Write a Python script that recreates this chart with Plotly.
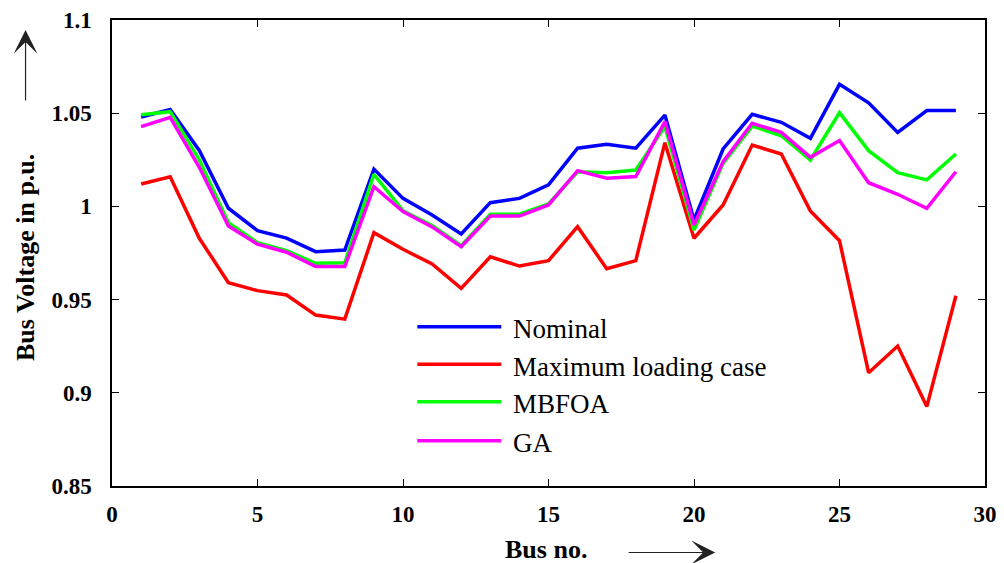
import plotly.graph_objects as go

bus = list(range(1, 30))

nominal = [1.048, 1.052, 1.030, 0.999, 0.987, 0.983, 0.9757, 0.9766, 1.020, 1.0043,
           0.9954, 0.9852, 1.002, 1.0043, 1.0115, 1.0312, 1.0333, 1.0312, 1.049, 0.9927,
           1.0308, 1.0494, 1.0451, 1.0365, 1.0655, 1.0556, 1.0397, 1.0514, 1.0514]

max_loading = [1.012, 1.0159, 0.9829, 0.9591, 0.9548, 0.9525, 0.9417, 0.9395, 0.9859, 0.977,
               0.9691, 0.956, 0.973, 0.968, 0.9709, 0.9891, 0.9666, 0.9709, 1.0342, 0.9829,
               1.0008, 1.0329, 1.0281, 0.9975, 0.9816, 0.9108, 0.9251, 0.8926, 0.9521]

mbfoa = [1.0492, 1.0508, 1.025, 0.9913, 0.9805, 0.9762, 0.9695, 0.9698, 1.0172, 0.9977,
         0.9897, 0.9789, 0.9958, 0.9958, 1.0013, 1.0186, 1.0181, 1.0195, 1.0428, 0.9873,
         1.0231, 1.0431, 1.0379, 1.0249, 1.0503, 1.0299, 1.0181, 1.0142, 1.0281]

ga = [1.0428, 1.0478, 1.021, 0.9895, 0.9797, 0.9754, 0.9677, 0.9677, 1.0106, 0.9972,
      0.989, 0.9784, 0.9948, 0.9948, 1.0008, 1.0192, 1.0151, 1.016, 1.0455, 0.990,
      1.024, 1.0446, 1.0397, 1.0263, 1.0353, 1.0127, 1.0065, 0.999, 1.0186]

series_names = ["Nominal", "Maximum loading case", "MBFOA", "GA"]
series_values = [nominal, max_loading, mbfoa, ga]
series_colors = ["#0000FF", "#FF0000", "#00FF00", "#FF00FF"]

x_ticks = [0, 5, 10, 15, 20, 25, 30]
y_ticks = [0.85, 0.9, 0.95, 1.0, 1.05, 1.1]

# plot area in pixels (for paper-coordinate placement of decorations)
L, R, T, B = 111.5, 985.0, 20.0, 486.0
W, H = 1004, 563


def px(xp):
    return (xp - L) / (R - L)


def py(yp):
    return (B - yp) / (B - T)


fig = go.Figure()
for name, vals, col in zip(series_names, series_values, series_colors):
    fig.add_trace(go.Scatter(x=bus, y=vals, mode="lines", name=name,
                             line=dict(color=col, width=3.5), showlegend=False))

font_family = "Times New Roman, Liberation Serif, Times, serif"

fig.update_xaxes(range=[0, 30], tickvals=x_ticks, ticks="inside", ticklen=7,
                 tickcolor="black", tickwidth=1, showline=True, linecolor="black",
                 linewidth=1.5, mirror="ticks", showgrid=False, zeroline=False,
                 tickfont=dict(family=font_family, size=23, color="black", weight="bold"),
                 ticklabelstandoff=7)
fig.update_yaxes(range=[0.85, 1.1], tickvals=y_ticks, ticks="inside", ticklen=7,
                 tickcolor="black", tickwidth=1, showline=True, linecolor="black",
                 linewidth=1.5, mirror="ticks", showgrid=False, zeroline=False,
                 tickfont=dict(family=font_family, size=23, color="black", weight="bold"),
                 ticklabelstandoff=14)

annotations = []
shapes = []

# manual legend
legend_rows_y = [326.7, 364.3, 401.7, 440.7]
for name, col, yy in zip(series_names, series_colors, legend_rows_y):
    shapes.append(dict(type="line", xref="paper", yref="paper",
                       x0=px(417), x1=px(501), y0=py(yy), y1=py(yy),
                       line=dict(color=col, width=3.5)))
    annotations.append(dict(xref="paper", yref="paper", x=px(511), y=py(yy + 2.5),
                            xanchor="left", yanchor="middle", showarrow=False,
                            text=name, font=dict(family=font_family, size=27, color="black")))

# axis titles
annotations.append(dict(xref="paper", yref="paper", x=px(546), y=py(549),
                        xanchor="center", yanchor="middle", showarrow=False,
                        text="Bus no.",
                        font=dict(family=font_family, size=26, color="black", weight="bold")))
annotations.append(dict(xref="paper", yref="paper", x=px(25), y=py(257.5),
                        xanchor="center", yanchor="middle", showarrow=False, textangle=-90,
                        text="Bus Voltage in p.u.",
                        font=dict(family=font_family, size=26, color="black", weight="bold")))

# arrows
annotations.append(dict(xref="paper", yref="paper", x=px(715), y=py(552.5),
                        ax=-88, ay=0, axref="pixel", ayref="pixel", text="",
                        showarrow=True, arrowhead=3, arrowsize=3.3, arrowwidth=1.2,
                        arrowcolor="#222222"))
annotations.append(dict(xref="paper", yref="paper", x=px(25), y=py(30),
                        ax=0, ay=72, axref="pixel", ayref="pixel", text="",
                        showarrow=True, arrowhead=3, arrowsize=3.3, arrowwidth=1.2,
                        arrowcolor="#222222"))

fig.update_layout(width=W, height=H, plot_bgcolor="white", paper_bgcolor="white",
                  margin=dict(l=L, r=W - R, t=T, b=H - B, autoexpand=False),
                  annotations=annotations, shapes=shapes, showlegend=False)

fig.write_html("out.html")
